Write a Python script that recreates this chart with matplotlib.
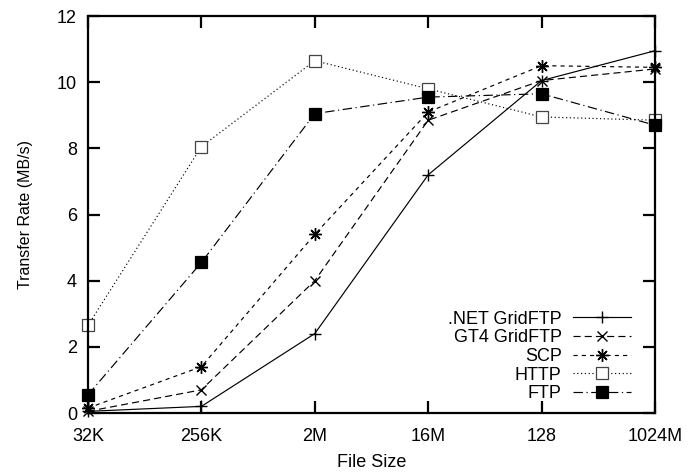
import matplotlib
matplotlib.use("Agg")
import matplotlib.pyplot as plt

plt.rcParams['font.family'] = ['Liberation Sans', 'DejaVu Sans']

categories = ["32K", "256K", "2M", "16M", "128", "1024M"]
net_gridftp = [0.05, 0.2, 2.4, 7.2, 10.05, 10.95]
gt4_gridftp = [0.05, 0.7, 4.0, 8.85, 10.05, 10.4]
scp = [0.15, 1.4, 5.4, 9.1, 10.5, 10.45]
http = [2.65, 8.05, 10.65, 9.8, 8.95, 8.85]
ftp = [0.55, 4.55, 9.05, 9.55, 9.65, 8.7]
yticks = [0, 2, 4, 6, 8, 10, 12]

fig = plt.figure(figsize=(6.95, 4.72), dpi=100)
ax = fig.add_axes([0.1266, 0.125, 0.8158, 0.841])

x = list(range(len(categories)))
ms = 9
lw = 0.85
ax.plot(x, net_gridftp, color='black', lw=lw, ls='-', marker='+', ms=ms, mew=1.0,
        label='.NET GridFTP', clip_on=False)
ax.plot(x, gt4_gridftp, color='black', lw=lw, ls=(0, (6, 3.5)), marker='x', ms=ms * 0.85, mew=1.0,
        label='GT4 GridFTP', clip_on=False)
ax.plot(x, scp, color='black', lw=lw, ls=(0, (3.5, 3.5)), marker=(8, 2, 0), ms=ms, mew=1.0,
        label='SCP', clip_on=False)
ax.plot(x, http, color='black', lw=lw, ls=(0, (1, 2.2)), marker='s', ms=ms, mew=0.9,
        mfc='white', mec='#444444', label='HTTP', clip_on=False)
ax.plot(x, ftp, color='black', lw=lw, ls=(0, (8, 3, 1, 3)), marker='s', ms=ms, mew=0.9,
        mfc='black', mec='black', label='FTP', clip_on=False)

ax.set_xlim(0, len(categories) - 1)
ax.set_ylim(0, 12)
ax.set_xticks(x)
ax.set_xticklabels(categories)
ax.set_yticks(yticks)
ax.tick_params(direction='in', length=8.6, width=1.6, labelsize=13, top=True, right=True)
ax.tick_params(axis='x', pad=11)
ax.tick_params(axis='y', pad=8)
for s in ax.spines.values():
    s.set_linewidth(1.6)

ax.set_xlabel('File Size', fontsize=13, labelpad=6.5)
ax.set_ylabel('Transfer Rate (MB/s)', fontsize=11.5, labelpad=17)

leg = ax.legend(loc='lower right', markerfirst=False, frameon=False, fontsize=13,
                handlelength=3.2, handletextpad=0.65, labelspacing=0.09,
                borderaxespad=0.0, borderpad=0.0, bbox_to_anchor=(0.958, 0.027))

fig.savefig('out.png', dpi=100)
